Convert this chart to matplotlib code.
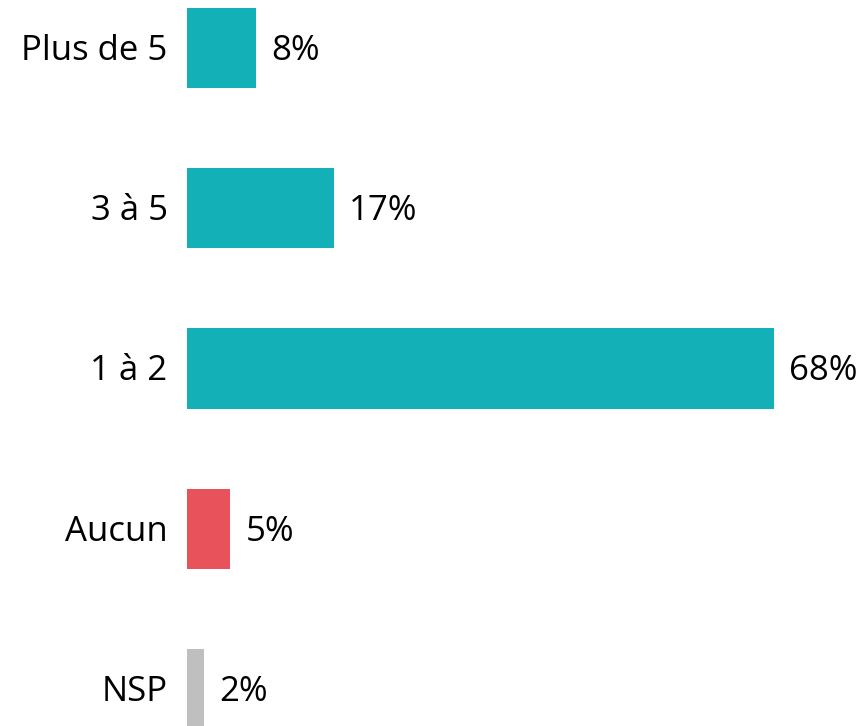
import matplotlib
matplotlib.use('Agg')
import matplotlib.pyplot as plt

categories = ['Plus de 5', '3 à 5', '1 à 2', 'Aucun', 'NSP']
values = [8, 17, 68, 5, 2]
colors = ['#14B0B8', '#14B0B8', '#14B0B8', '#E8525A', '#BFBFBF']

plt.rcParams['font.family'] = ['Open Sans', 'DejaVu Sans']

fig = plt.figure(figsize=(8.62, 7.26), dpi=100)
ax = fig.add_axes([187 / 862, 0, 1 - 187 / 862, 1])

ypos = list(range(len(categories) - 1, -1, -1))
ax.barh(ypos, values, height=0.5, color=colors)
for y, v, cat in zip(ypos, values, categories):
    ax.annotate(f'{v}%', xy=(v, y), xytext=(11, -2), textcoords='offset points',
                va='center', ha='left', fontsize=25)
    ax.annotate(cat, xy=(0, y), xytext=(-14, -2), textcoords='offset points',
                va='center', ha='right', fontsize=25, annotation_clip=False)

ax.set_yticks([])
ax.set_xticks([])
ax.set_xlim(0, 78.2)
ax.set_ylim(-0.231, 4.3)
for s in ax.spines.values():
    s.set_visible(False)

fig.savefig('out.png', dpi=100)
